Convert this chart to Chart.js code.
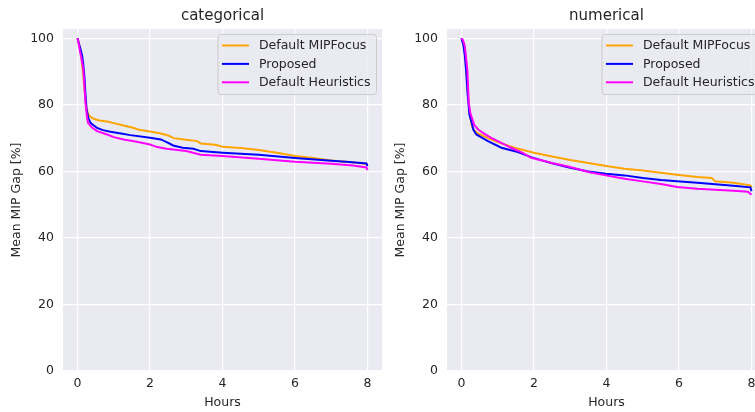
<!DOCTYPE html>
<html>
<head>
<meta charset="utf-8">
<script src="https://cdn.jsdelivr.net/npm/chart.js@4.4.0/dist/chart.umd.min.js"></script>
<style>
  body { margin: 0; background: #fff; overflow: hidden; width: 755px; height: 412px; position: relative; }
  canvas { position: absolute; top: 0; }
  #catChart { left: 0; }
  #numChart { left: 384px; }
</style>
</head>
<body>
<canvas id="catChart" width="384" height="412"></canvas>
<canvas id="numChart" width="384" height="412"></canvas>
<script>
'use strict';

// [hours, mean MIP gap %]
var catMipFocus = [[0, 100], [0.05, 98], [0.1, 95], [0.15, 90], [0.2, 84], [0.25, 79], [0.3, 77],
  [0.38, 76.2], [0.45, 75.8], [0.6, 75.3], [0.82, 75], [1.0, 74.5], [1.27, 73.8], [1.5, 73.2],
  [1.7, 72.5], [2.0, 72], [2.3, 71.4], [2.5, 70.8], [2.65, 70], [3.0, 69.5], [3.3, 69.1],
  [3.4, 68.4], [3.8, 68], [4.0, 67.4], [4.5, 67], [5.0, 66.4], [5.5, 65.6], [6.0, 64.6],
  [6.5, 64], [7.0, 63.3], [7.5, 62.8], [8.0, 62.2]];
var catProposed = [[0, 100], [0.05, 98], [0.1, 96], [0.13, 94.7], [0.16, 92], [0.19, 88.6],
  [0.22, 83], [0.25, 78.6], [0.3, 76], [0.36, 74.6], [0.45, 73.8], [0.54, 73.1], [0.7, 72.4],
  [0.91, 71.9], [1.2, 71.4], [1.46, 70.9], [2.0, 70.1], [2.3, 69.6], [2.5, 68.6], [2.64, 67.8],
  [2.9, 67.1], [3.2, 66.8], [3.4, 66.1], [4.0, 65.6], [5.0, 65], [6.0, 64], [7.0, 63.2],
  [7.5, 62.8], [7.97, 62.4], [8.0, 61.6]];
var catHeuristics = [[0, 100], [0.03, 98.5], [0.065, 96.2], [0.1, 94.5], [0.16, 90.7], [0.19, 86],
  [0.22, 80.6], [0.26, 76.5], [0.29, 74.6], [0.4, 73.2], [0.54, 72.1], [0.82, 71.1], [1.0, 70.3],
  [1.27, 69.6], [1.6, 69], [2.0, 68.1], [2.2, 67.3], [2.46, 66.8], [3.0, 66.1], [3.4, 65],
  [4.0, 64.6], [5.0, 63.8], [6.0, 62.9], [7.0, 62.3], [7.6, 61.8], [7.97, 61.2], [8.0, 60.4]];

var numMipFocus = [[0, 100], [0.05, 98.5], [0.09, 96], [0.13, 91], [0.17, 84], [0.22, 78],
  [0.27, 74.5], [0.32, 72.6], [0.45, 71.4], [0.73, 70], [1.0, 68.8], [1.46, 67.1], [2.0, 65.6],
  [2.5, 64.5], [3.0, 63.4], [3.5, 62.5], [4.0, 61.6], [4.5, 60.8], [5.0, 60.3], [5.5, 59.6],
  [6.0, 58.9], [6.5, 58.3], [6.9, 58], [7.0, 57], [7.5, 56.6], [7.97, 55.8], [8.0, 55.2]];
var numProposed = [[0, 100], [0.05, 98], [0.09, 95], [0.13, 90], [0.17, 83], [0.22, 77],
  [0.27, 75.1], [0.33, 72.5], [0.41, 71.1], [0.55, 70.2], [0.73, 69.1], [1.1, 67.1], [1.5, 66],
  [1.92, 64.3], [2.5, 62.4], [3.0, 61.1], [3.5, 60], [3.98, 59.3], [4.5, 58.8], [5.0, 58],
  [5.5, 57.4], [5.95, 57], [6.5, 56.6], [7.0, 56.1], [7.5, 55.7], [7.97, 55.2], [8.0, 54]];
var numHeuristics = [[0, 100], [0.04, 99.5], [0.09, 97.7], [0.16, 90.7], [0.2, 80.6], [0.24, 77.8],
  [0.27, 76.6], [0.35, 74], [0.46, 72.6], [0.6, 71.5], [0.82, 70.1], [1.1, 68.6], [1.37, 67.1],
  [1.7, 65.5], [1.92, 64.1], [2.5, 62.5], [3.0, 61.3], [3.5, 59.8], [3.98, 58.8], [4.5, 57.8],
  [5.0, 57], [5.5, 56.2], [5.95, 55.3], [6.5, 54.8], [7.0, 54.5], [7.5, 54.2], [7.9, 53.9], [8.0, 53]];

var seriesNames = ['Default MIPFocus', 'Proposed', 'Default Heuristics'];
var seriesColors = ['#ffa500', '#0000ff', '#ff00ff'];
var hourTicks = [0, 2, 4, 6, 8];
var gapTicks = [0, 20, 40, 60, 80, 100];

var textColor = '#262626';
var font = '"DejaVu Sans", sans-serif';

function toPoints(pairs) {
  return pairs.map(function (p) { return { x: p[0], y: p[1] }; });
}

// gray panel, title above it and a matplotlib-style legend box
var panelDecor = {
  id: 'panelDecor',
  beforeDraw: function (chart) {
    var a = chart.chartArea;
    var ctx = chart.ctx;
    ctx.save();
    ctx.fillStyle = '#eaeaf2';
    ctx.fillRect(a.left, a.top, a.right - a.left, a.bottom - a.top);
    ctx.restore();
  },
  afterDraw: function (chart, args, opts) {
    var a = chart.chartArea;
    var ctx = chart.ctx;
    ctx.save();
    ctx.fillStyle = textColor;
    ctx.font = '15px ' + font;
    ctx.textAlign = 'center';
    ctx.textBaseline = 'middle';
    ctx.fillText(opts.title, (a.left + a.right) / 2, 16);

    ctx.font = '12.5px ' + font;
    var maxW = 0;
    chart.data.datasets.forEach(function (ds) {
      maxW = Math.max(maxW, ctx.measureText(ds.label).width);
    });
    var w = 41 + maxW + 6;
    var h = 60;
    var x = a.right - 5.5 - w;
    var y = a.top + 5.5;
    ctx.beginPath();
    ctx.roundRect(x, y, w, h, 3);
    ctx.fillStyle = 'rgba(234, 234, 242, 0.8)';
    ctx.fill();
    ctx.strokeStyle = '#cccccc';
    ctx.lineWidth = 1;
    ctx.stroke();

    ctx.textAlign = 'left';
    chart.data.datasets.forEach(function (ds, i) {
      var ry = y + 11 + i * 18.4;
      ctx.beginPath();
      ctx.moveTo(x + 4, ry);
      ctx.lineTo(x + 31, ry);
      ctx.strokeStyle = ds.borderColor;
      ctx.lineWidth = 2;
      ctx.stroke();
      ctx.fillStyle = textColor;
      ctx.fillText(ds.label, x + 41, ry + 0.5);
    });
    ctx.restore();
  }
};

function makeChart(id, title, series) {
  var datasets = series.map(function (s, i) {
    return {
      label: seriesNames[i],
      data: toPoints(s),
      borderColor: seriesColors[i],
      backgroundColor: seriesColors[i],
      borderWidth: 2,
      pointRadius: 0,
      tension: 0,
      fill: false,
      order: series.length - i
    };
  });

  return new Chart(document.getElementById(id), {
    type: 'line',
    data: { datasets: datasets },
    plugins: [panelDecor],
    options: {
      responsive: false,
      animation: false,
      devicePixelRatio: 1,
      layout: { padding: { top: 29, right: 2, left: 0, bottom: 0 } },
      plugins: {
        legend: { display: false },
        tooltip: { enabled: false },
        panelDecor: { title: title }
      },
      scales: {
        x: {
          type: 'linear',
          min: -0.4,
          max: 8.4,
          afterBuildTicks: function (s) { s.ticks = hourTicks.map(function (v) { return { value: v }; }); },
          afterFit: function (s) { s.height = 41; },
          grid: { color: '#ffffff', lineWidth: 1.2, drawTicks: false },
          border: { display: false },
          ticks: { color: textColor, font: { family: font, size: 12.5 }, padding: 5, maxRotation: 0 },
          title: { display: true, text: 'Hours', color: textColor, font: { family: font, size: 12.5 }, padding: { top: 0, bottom: 2 } }
        },
        y: {
          min: 0,
          max: 102.8,
          afterBuildTicks: function (s) { s.ticks = gapTicks.map(function (v) { return { value: v }; }); },
          afterFit: function (s) { s.width = 63; },
          grid: { color: '#ffffff', lineWidth: 1.2, drawTicks: false },
          border: { display: false },
          ticks: { color: textColor, font: { family: font, size: 12.5 }, padding: 9 },
          title: { display: true, text: 'Mean MIP Gap [%]', color: textColor, font: { family: font, size: 12.5 }, padding: { top: 9, bottom: 0 } }
        }
      }
    }
  });
}

makeChart('catChart', 'categorical', [catMipFocus, catProposed, catHeuristics]);
makeChart('numChart', 'numerical', [numMipFocus, numProposed, numHeuristics]);
</script>
</body>
</html>
